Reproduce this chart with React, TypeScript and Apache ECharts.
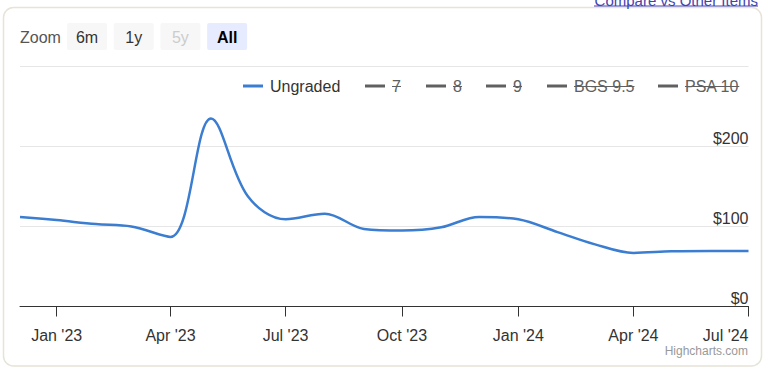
import React, { useEffect, useRef } from "react";
import * as echarts from "echarts";

// ---- data ----
const dates: string[] = [
  "2022-12-03", "2023-01-01", "2023-02-01", "2023-03-01", "2023-04-01",
  "2023-05-03", "2023-06-01", "2023-07-01", "2023-08-01", "2023-09-01",
  "2023-10-01", "2023-11-01", "2023-12-01", "2024-01-01", "2024-02-01",
  "2024-03-01", "2024-04-01", "2024-05-01", "2024-06-01", "2024-07-01",
];
const ungraded: number[] = [
  112, 108, 103, 100, 87,
  235, 138, 109, 116, 97,
  95, 99, 112, 109, 93,
  78, 67, 69, 69.5, 69.5,
];
const grade7: [number, number][] = [];
const grade8: [number, number][] = [];
const grade9: [number, number][] = [];
const bgs95: [number, number][] = [];
const psa10: [number, number][] = [];

const tickDates: string[] = [
  "2023-01-01", "2023-04-01", "2023-07-01", "2023-10-01",
  "2024-01-01", "2024-04-01", "2024-07-01",
];
const tickLabels: string[] = [
  "Jan '23", "Apr '23", "Jul '23", "Oct '23", "Jan '24", "Apr '24", "Jul '24",
];
const yTicks: number[] = [0, 100, 200, 300];
const zoomButtons: string[] = ["6m", "1y", "5y", "All"];
const legendNames: string[] = ["Ungraded", "7", "8", "9", "BGS 9.5", "PSA 10"];

const ts = (s: string) => new Date(s + "T00:00:00").getTime();
const FONT = "'Liberation Sans', Arial, sans-serif";

export default function App() {
  const ref = useRef<HTMLDivElement>(null);

  useEffect(() => {
    if (!ref.current) return;
    const chart = echarts.init(ref.current, undefined, { renderer: "svg" });
    const tickTs = tickDates.map(ts);

    // icon left x, hidden?, text width (for strike-through)
    const legendLayout: { iconX: number; hidden: boolean; textW: number }[] = [
      { iconX: 243, hidden: false, textW: 0 },
      { iconX: 365, hidden: true, textW: 9 },
      { iconX: 426, hidden: true, textW: 9 },
      { iconX: 486, hidden: true, textW: 9 },
      { iconX: 547, hidden: true, textW: 60.5 },
      { iconX: 658, hidden: true, textW: 54.3 },
    ];

    const legends = legendNames.map((name, i) => ({
      data: [name],
      left: legendLayout[i].iconX - 5,
      top: 73,
      icon: "rect",
      itemWidth: 20,
      itemHeight: 3,
      selected: { [name]: !legendLayout[i].hidden },
      inactiveColor: "#606060",
      inactiveBorderColor: "#606060",
      textStyle: { fontFamily: FONT, fontSize: 16, color: "#333", padding: [0, 0, 0, 2] },
    }));

    const graphics: any[] = [
      {
        type: "rect",
        shape: { x: 3.5, y: 7.5, width: 758, height: 358.5, r: 10 },
        style: { fill: "none", stroke: "#e6e4d6", lineWidth: 1.5 },
        silent: true,
      },
      {
        type: "text",
        x: 758,
        y: 8,
        style: {
          text: "Compare vs Other Items",
          fill: "#4343b0",
          font: `15px ${FONT}`,
          align: "right",
          verticalAlign: "bottom",
        },
      },
      {
        type: "line",
        shape: { x1: 594, y1: 6, x2: 758, y2: 6 },
        style: { stroke: "#4343b0", lineWidth: 1 },
      },
      {
        type: "text",
        x: 20,
        y: 37,
        style: { text: "Zoom", fill: "#555", font: `16px ${FONT}`, verticalAlign: "middle" },
      },
      {
        type: "text",
        x: 748,
        y: 351,
        style: {
          text: "Highcharts.com",
          fill: "#999",
          font: `12px ${FONT}`,
          align: "right",
          verticalAlign: "middle",
        },
      },
    ];

    zoomButtons.forEach((b, i) => {
      const x = 67 + i * 46.7;
      const sel = b === "All";
      const dis = b === "5y";
      graphics.push({
        type: "rect",
        shape: { x, y: 23, width: 40, height: 27, r: 2 },
        style: { fill: sel ? "#e6ebff" : "#f7f7f7" },
      });
      graphics.push({
        type: "text",
        x: x + 20,
        y: 37,
        style: {
          text: b,
          fill: sel ? "#000" : dis ? "#cccccc" : "#333",
          font: `${sel ? "bold " : ""}16px ${FONT}`,
          align: "center",
          verticalAlign: "middle",
        },
      });
    });

    legendLayout.forEach((l) => {
      if (!l.hidden) return;
      const x1 = l.iconX + 27;
      graphics.push({
        type: "line",
        shape: { x1, y1: 86.5, x2: x1 + l.textW, y2: 86.5 },
        style: { stroke: "#606060", lineWidth: 1 },
        silent: true,
      });
    });

    chart.setOption({
      animation: false,
      backgroundColor: "#fff",
      textStyle: { fontFamily: FONT },
      grid: { left: 20, right: 19.5, top: 66.5, height: 240, containLabel: false },
      legend: legends,
      xAxis: {
        type: "value",
        min: ts(dates[0]),
        max: ts(dates[dates.length - 1]),
        axisLine: { lineStyle: { color: "#333", width: 1 } },
        axisTick: {
          show: true,
          length: 10,
          lineStyle: { color: "#333" },
          customValues: tickTs,
        },
        axisLabel: {
          customValues: tickTs,
          margin: 21,
          fontSize: 16,
          color: "#333",
          fontFamily: FONT,
          alignMaxLabel: "right",
          formatter: (v: number) => {
            const i = tickTs.indexOf(v);
            return i >= 0 ? tickLabels[i] : "";
          },
        },
        splitLine: { show: false },
      },
      yAxis: {
        type: "value",
        position: "right",
        min: yTicks[0],
        max: yTicks[yTicks.length - 1],
        interval: 100,
        axisLine: { show: false },
        axisTick: { show: false },
        splitLine: { lineStyle: { color: "#e6e6e6", width: 1 } },
        axisLabel: {
          inside: true,
          margin: 0,
          fontSize: 16,
          color: "#333",
          fontFamily: FONT,
          verticalAlign: "bottom",
          padding: [0, 0, 0, 0],
          formatter: (v: number) => (v === 300 ? "" : "$" + v),
        },
      },
      series: [
        {
          name: "Ungraded",
          type: "line",
          data: dates.map((d, i) => [ts(d), ungraded[i]]),
          smooth: 0.35,
          showSymbol: false,
          color: "#3b7dd0",
          lineStyle: { width: 2.5, color: "#3b7dd0" },
        },
        { name: "7", type: "line", data: grade7, color: "#606060" },
        { name: "8", type: "line", data: grade8, color: "#606060" },
        { name: "9", type: "line", data: grade9, color: "#606060" },
        { name: "BGS 9.5", type: "line", data: bgs95, color: "#606060" },
        { name: "PSA 10", type: "line", data: psa10, color: "#606060" },
      ],
      graphic: graphics,
    });

    return () => chart.dispose();
  }, []);

  return (
    <div
      ref={ref}
      style={{ position: "absolute", left: 0, top: 0, width: 768, height: 370 }}
    />
  );
}
